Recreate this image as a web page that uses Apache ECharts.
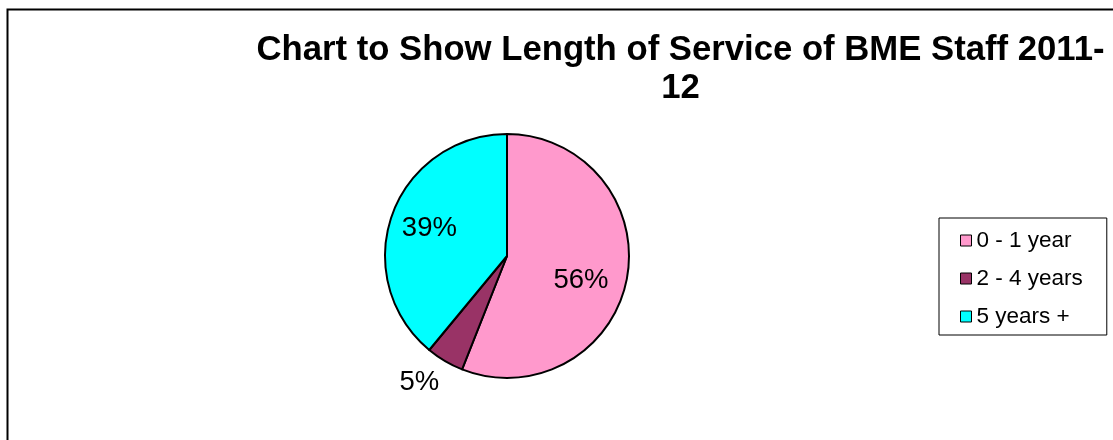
<!DOCTYPE html>
<html>
<head>
<meta charset="utf-8">
<script src="https://cdn.jsdelivr.net/npm/echarts@6/dist/echarts.min.js"></script>
<style>
html,body{margin:0;padding:0;background:#fff;}
#chart{width:1113px;height:440px;}
</style>
</head>
<body>
<div id="chart"></div>
<script>
const titleText = 'Chart to Show Length of Service of BME Staff 2011-\n12';
const categories = ['0 - 1 year', '2 - 4 years', '5 years +'];
const values = [56, 5, 39];
const colors = ['#FF99CC', '#993366', '#00FFFF'];

const chart = echarts.init(document.getElementById('chart'), null, {renderer: 'canvas'});
const FONT = '"Liberation Sans", Arial, sans-serif';

const mainData = categories.map((c, i) => ({
  name: c, value: values[i], itemStyle: {color: colors[i]},
  label: i === 1 ? {show: true} : {show: false}
}));
const labelData = categories.map((c, i) => ({
  name: c, value: values[i],
  label: i === 0 ? {show: true, offset: [-7, 9]} : {show: i !== 1}
}));

chart.setOption({
  backgroundColor: '#fff',
  animation: false,
  title: {
    text: titleText,
    left: 680.5,
    top: 31,
    padding: 0,
    textAlign: 'center',
    textStyle: {fontFamily: FONT, fontWeight: 'bold', fontSize: 34.7, lineHeight: 38, color: '#000'}
  },
  legend: {
    orient: 'vertical',
    left: 939,
    top: 218,
    padding: [11, 24, 7, 21],
    borderColor: '#000',
    borderWidth: 1,
    itemWidth: 11,
    itemHeight: 11,
    itemGap: 15,
    icon: 'rect',
    data: categories,
    selectedMode: false,
    itemStyle: {borderColor: '#000', borderWidth: 1},
    textStyle: {fontFamily: FONT, fontSize: 22.5, lineHeight: 22, color: '#000'}
  },
  graphic: [{
    type: 'rect',
    shape: {x: 7.5, y: 9.5, width: 2000, height: 2000},
    style: {fill: 'none', stroke: '#000', lineWidth: 2},
    silent: true
  }],
  series: [{
    type: 'pie',
    center: [507, 256],
    radius: [0, 122],
    startAngle: 90,
    clockwise: true,
    avoidLabelOverlap: false,
    silent: true,
    itemStyle: {borderColor: '#000', borderWidth: 2},
    label: {
      position: 'outside',
      formatter: p => p.value + '%',
      fontFamily: FONT, fontSize: 27.5, color: '#000',
      distanceToLabelLine: -7
    },
    labelLine: {show: false, length: 25, length2: 0},
    emphasis: {disabled: true},
    data: mainData
  }, {
    type: 'pie',
    center: [507, 256],
    radius: [60, 99],
    startAngle: 90,
    clockwise: true,
    avoidLabelOverlap: false,
    silent: true,
    z: 3,
    itemStyle: {color: 'rgba(0,0,0,0)', borderWidth: 0},
    label: {
      position: 'inside',
      formatter: p => p.value + '%',
      fontFamily: FONT, fontSize: 27.5, color: '#000'
    },
    labelLine: {show: false},
    emphasis: {disabled: true},
    data: labelData
  }]
});
</script>
</body>
</html>
